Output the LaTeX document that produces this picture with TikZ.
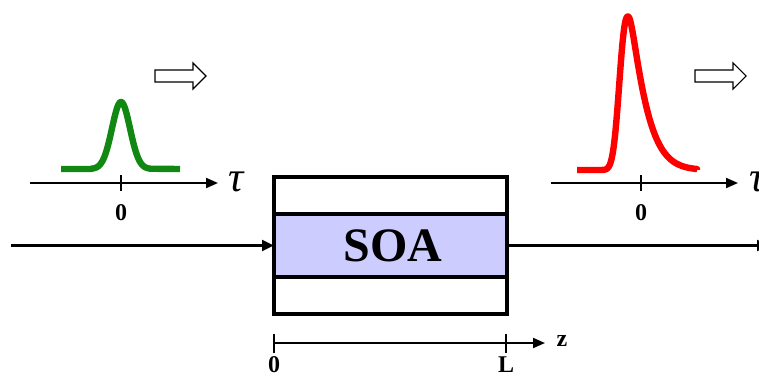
\documentclass[tikz,border=0pt]{standalone}
\usepackage{fontspec}
\setmainfont{Liberation Serif}
\usetikzlibrary{arrows.meta,calc}
\definecolor{pulsegreen}{RGB}{17,136,17}
\definecolor{pulsered}{RGB}{255,0,0}
\definecolor{soafill}{RGB}{204,204,255}
\begin{document}
\begin{tikzpicture}[x=0.75pt,y=-0.75pt,
  axis/.style={line width=1.5pt,-{Triangle[length=9pt,width=7.5pt]}},
  beam/.style={line width=2.25pt,-{Triangle[length=9pt,width=8pt]}},
  tickmark/.style={line width=1.5pt},
  lbl/.style={font=\fontsize{18}{20}\selectfont\bfseries, inner sep=0pt},
  taulbl/.style={font=\fontsize{32}{34}\selectfont\itshape, inner sep=0pt},
  pulse/.style={line width=4.8pt, line cap=butt, line join=round},
  hollow/.style={line width=0.8pt, line join=miter, fill=white},
  boxline/.style={line width=2.5pt}]
\path[use as bounding box, clip] (0,0) rectangle (759,378);

% ---------- left (input) pulse and axis ----------
\coordinate (tlA) at (30,183);
\coordinate (tlB) at (218,183);
\coordinate (t0L) at (121,183);
\draw[axis] (tlA) -- (tlB);
\draw[tickmark] ($(t0L)+(0,-8)$) -- ($(t0L)+(0,8)$);
\node[lbl] (zeroL) at (121,213) {0};
\node[taulbl] (tauL) at (236,182) {τ};
\draw[pulse, pulsegreen] (61,169) -- (91,169)
  -- plot[domain=91:151, samples=90] (\x,{169-67*exp(-((\x-121)/9)*((\x-121)/9)/2)})
  -- (180,169);

% ---------- right (output) pulse and axis ----------
\coordinate (trA) at (551,183);
\coordinate (trB) at (738,183);
\coordinate (t0R) at (641,183);
\draw[axis] (trA) -- (trB);
\draw[tickmark] ($(t0R)+(0,-8)$) -- ($(t0R)+(0,8)$);
\node[lbl] (zeroR) at (641,213) {0};
\node[taulbl] (tauR) at (757,182) {τ};
\draw[pulse, pulsered] (577,170) -- (598,170)
  -- plot[domain=598:627.9, samples=80] (\x,{170-153.5*exp(-((abs(\x-628)/11)^2.4))})
  -- plot[domain=628:697, samples=120] (\x,{170-153.5*exp(-(0.056*(sqrt((\x-628)*(\x-628)+25)-5)+0.0003*(\x-628)*(\x-628)))})
  -- (697,170);

% ---------- hollow direction arrows ----------
\draw[hollow] (155,70) -- (193,70) -- (193,63) -- (206,76) -- (193,89) -- (193,82) -- (155,82) -- cycle;
\draw[hollow] (695,70) -- (733,70) -- (733,63) -- (746,76) -- (733,89) -- (733,82) -- (695,82) -- cycle;

% ---------- SOA chip ----------
\draw[boxline, fill=soafill] (274,214) rectangle (507,277);
\draw[boxline] (274,177) rectangle (507,314);
\node[font=\fontsize{36}{40}\selectfont\bfseries] (soa) at (393,245.5) {SOA};

\coordinate (inL) at (11,245.5);
\coordinate (boxW) at (274,245.5);
\coordinate (boxE) at (507,245.5);
\coordinate (outR) at (769,245.5);
\draw[beam] (inL) -- (boxW);
\draw[beam] (boxE) -- (outR);

% ---------- z axis ----------
\coordinate (z0) at (274,343);
\coordinate (zL) at (506,343);
\coordinate (zEnd) at (545,343);
\draw[axis] (z0) -- (zEnd);
\draw[tickmark] ($(z0)+(0,-9)$) -- ($(z0)+(0,10)$);
\draw[tickmark] ($(zL)+(0,-9)$) -- ($(zL)+(0,10)$);
\node[lbl] (zlbl) at (562,341) {z};
\node[lbl] (zzero) at (274,365) {0};
\node[lbl] (zLl) at (506,365) {L};
\end{tikzpicture}
\end{document}
